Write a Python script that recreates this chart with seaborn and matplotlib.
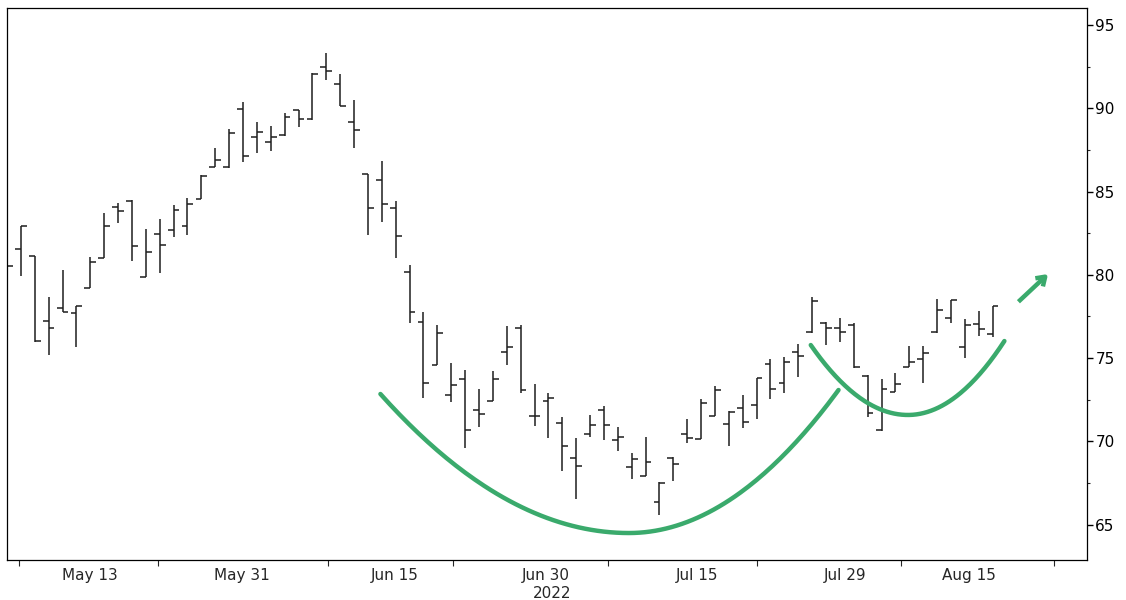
import numpy as np
import pandas as pd
import matplotlib
matplotlib.use("Agg")
import matplotlib.pyplot as plt
import seaborn as sns
from matplotlib.patches import FancyArrowPatch

# ==============================
# DATA (daily OHLC bars)
# ==============================
opens = [80.5, 81.55, 81.13, 77.24, 78.02, 77.72, 79.2, 81.0, 84.05, 84.4,
         79.87, 82.43, 82.69, 82.95, 84.55, 86.47, 86.5, 89.94, 88.25, 87.97,
         88.4, 89.9, 89.34, 92.46, 91.44, 89.16, 86.03, 85.69, 84.03, 80.19,
         77.18, 74.6, 72.78, 73.74, 71.88, 72.42, 75.38, 76.78, 71.5, 72.42,
         71.08, 68.98, 70.42, 71.88, 70.07, 68.47, 67.93, 66.37, 68.98, 70.42,
         70.11, 71.52, 71.02, 72.02, 72.18, 74.62, 73.52, 75.38, 76.54, 77.08,
         76.82, 76.98, 73.94, 70.68, 72.98, 74.44, 74.92, 76.58, 77.38, 75.64,
         77.04, 76.42]
highs = [82.9, 82.93, 81.13, 78.66, 80.29, 78.12, 81.07, 83.7, 84.3, 84.5,
         82.75, 83.35, 84.19, 84.6, 86.0, 87.6, 88.75, 90.4, 89.2, 88.93,
         89.7, 89.9, 92.1, 93.3, 92.04, 90.5, 86.03, 86.85, 84.43, 80.59,
         77.78, 76.98, 74.68, 74.28, 73.12, 74.22, 76.92, 76.98, 73.42, 72.88,
         71.44, 70.18, 71.58, 72.12, 70.88, 69.32, 70.24, 67.57, 69.07, 71.32,
         72.52, 73.32, 71.82, 72.78, 73.82, 74.94, 75.08, 75.82, 78.68, 77.18,
         77.38, 77.08, 73.98, 73.72, 74.12, 75.74, 75.74, 78.52, 78.48, 77.32,
         77.82, 78.12]
lows = [78.9, 79.93, 75.96, 75.18, 77.76, 75.66, 79.2, 81.0, 83.1, 80.8,
        79.87, 80.1, 82.27, 82.4, 84.55, 86.47, 86.4, 86.77, 87.3, 87.45,
        88.35, 88.9, 89.3, 91.7, 90.15, 87.63, 82.39, 83.15, 81.03, 77.08,
        72.58, 74.58, 72.38, 69.58, 70.88, 72.42, 74.58, 72.88, 70.92, 70.18,
        68.23, 66.51, 70.24, 70.07, 69.43, 67.73, 67.93, 65.57, 67.63, 69.91,
        70.11, 71.52, 69.73, 70.78, 71.32, 72.52, 72.88, 73.84, 76.48, 75.78,
        75.98, 74.38, 71.48, 70.63, 72.98, 74.44, 73.48, 76.52, 77.08, 74.98,
        76.32, 76.28]
closes = [80.5, 82.93, 76.04, 76.8, 77.78, 78.12, 80.78, 82.93, 83.85, 81.73,
          81.37, 81.79, 83.89, 84.23, 85.95, 86.9, 88.5, 87.13, 88.55, 88.25,
          89.45, 89.34, 92.06, 92.24, 90.15, 88.7, 84.03, 84.25, 82.35, 77.74,
          73.48, 76.48, 73.38, 70.68, 71.62, 73.72, 75.68, 73.08, 71.5, 72.62,
          69.73, 68.53, 70.98, 70.98, 70.27, 68.92, 68.77, 67.51, 68.62, 70.22,
          72.32, 73.08, 71.74, 71.18, 73.78, 73.12, 74.78, 75.12, 78.44, 76.82,
          76.58, 74.44, 71.72, 73.12, 73.42, 74.78, 75.28, 77.88, 78.48, 76.98,
          76.72, 78.12]

date_labels = ["May 13", "May 31", "Jun 15", "Jun 30", "Jul 15", "Jul 29", "Aug 15"]
year_label = "2022"
y_ticks = [65, 70, 75, 80, 85, 90, 95]

# cup & handle sketch (bar index, price): start, bottom, end
cup_pts = [(26.9, 72.84), (44.8, 64.49), (59.9, 73.08)]
handle_pts = [(57.9, 75.78), (64.9, 71.58), (71.85, 76.02)]
arrow_pts = [(72.86, 78.38), (75.0, 80.05)]

df = pd.DataFrame({"open": opens, "high": highs, "low": lows, "close": closes})
df["idx"] = np.arange(len(df))

# layout
label_pos = [6.0, 16.9, 27.9, 38.8, 49.7, 60.4, 69.3]
minor_pos = [0.86, 10.9, 23.1, 32.1, 43.3, 54.0, 64.4, 75.4]
GREEN = "#3aaa6c"
BAR = "#1e1e1e"


def half_parabola(p0, pmin, p1, n=80):
    # two half-parabolas joined smoothly at the bottom point
    xl = np.linspace(p0[0], pmin[0], n)
    al = (p0[1] - pmin[1]) / (p0[0] - pmin[0]) ** 2
    xr = np.linspace(pmin[0], p1[0], n)
    ar = (p1[1] - pmin[1]) / (p1[0] - pmin[0]) ** 2
    x = np.concatenate([xl, xr])
    y = np.concatenate([pmin[1] + al * (xl - pmin[0]) ** 2,
                        pmin[1] + ar * (xr - pmin[0]) ** 2])
    return pd.DataFrame({"x": x, "y": y})


# ==============================
# PLOT
# ==============================
sns.set_style("white")
plt.rcParams["font.family"] = ["DejaVu Sans"]

fig = plt.figure(figsize=(11.26, 6), dpi=100)
ax = fig.add_axes([7 / 1126, 40 / 600, 1080 / 1126, 552 / 600])

tick = 0.42
ax.vlines(df["idx"], df["low"], df["high"], color=BAR, lw=1.1)
ax.hlines(df["open"], df["idx"] - tick, df["idx"], color=BAR, lw=1.1)
ax.hlines(df["close"], df["idx"], df["idx"] + tick, color=BAR, lw=1.1)

sns.lineplot(data=half_parabola(*cup_pts), x="x", y="y", sort=False,
             color=GREEN, lw=3.2, ax=ax)
sns.lineplot(data=half_parabola(*handle_pts), x="x", y="y", sort=False,
             color=GREEN, lw=3.2, ax=ax)
ax.add_patch(FancyArrowPatch(arrow_pts[0], arrow_pts[1],
                             arrowstyle="->,head_length=6,head_width=4",
                             color=GREEN, lw=3.2, shrinkA=0, shrinkB=0,
                             capstyle="butt"))

ax.set_xlim(0, 77.8)
ax.set_ylim(62.87, 96.02)

# right-hand price axis
ax.yaxis.tick_right()
ax.set_yticks(y_ticks)
ax.set_yticks([v + 2.5 for v in y_ticks[:-1]], minor=True)
ax.tick_params(axis="y", which="major", direction="out", length=4, width=1,
               labelsize=11, pad=2, colors="black", right=True, left=False)
ax.tick_params(axis="y", which="minor", direction="out", length=2, width=0.8,
               right=True, left=False)

# date axis
ax.set_xticks(label_pos)
ax.set_xticklabels(date_labels)
ax.set_xticks(minor_pos, minor=True)
ax.tick_params(axis="x", which="major", length=0, labelsize=11, pad=6)
ax.tick_params(axis="x", which="minor", direction="out", length=4, width=0.8,
               bottom=True)
fig.text(552 / 1126, 1 - 593 / 600, year_label, ha="center", va="center",
         fontsize=11)

ax.set_xlabel("")
ax.set_ylabel("")
for s in ax.spines.values():
    s.set_color("black")
    s.set_linewidth(0.9)

fig.savefig("out.png", dpi=100, facecolor="white")
